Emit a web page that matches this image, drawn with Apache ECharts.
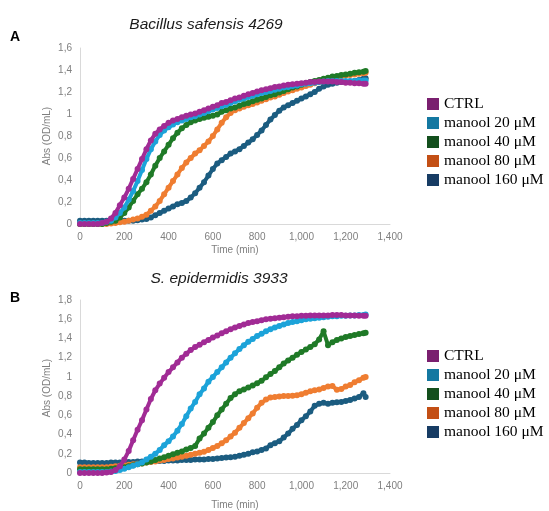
<!DOCTYPE html>
<html>
<head>
<meta charset="utf-8">
<script src="https://cdn.jsdelivr.net/npm/echarts@6/dist/echarts.min.js"></script>
<style>
  html, body { margin: 0; padding: 0; background: #fff; }
  #chart { width: 549px; height: 511px; }
</style>
</head>
<body>
<div id="chart"></div>
<script>
// Sampling times (min)
const times = [0,20,40,60,80,100,120,140,160,180,
  200,220,240,260,280,300,320,340,360,380,
  400,420,440,460,480,500,520,540,560,580,
  600,620,640,660,680,700,720,740,760,780,
  800,820,840,860,880,900,920,940,960,980,
  1000,1020,1040,1060,1080,1100,1120,1140,1160,1180,
  1200,1220,1240,1260,1280,1290];

const seriesNames = ['CTRL', 'manool 20 \u03bcM', 'manool 40 \u03bcM', 'manool 80 \u03bcM', 'manool 160 \u03bcM'];

// Panel A – Bacillus safensis 4269, Abs (OD/mL)
const ctrlA = [0.00,0.00,0.00,0.00,0.00,0.01,0.02,0.05,0.10,0.17,
  0.24,0.32,0.41,0.50,0.59,0.68,0.76,0.82,0.86,0.89,
  0.92,0.94,0.955,0.97,0.985,0.995,1.005,1.02,1.035,1.05,
  1.065,1.08,1.10,1.11,1.125,1.14,1.15,1.165,1.18,1.19,
  1.205,1.215,1.225,1.235,1.245,1.25,1.26,1.265,1.27,1.275,
  1.28,1.285,1.29,1.29,1.295,1.295,1.295,1.295,1.29,1.29,
  1.285,1.285,1.28,1.28,1.275,1.275];
const m20A = [0.01,0.01,0.01,0.01,0.01,0.01,0.02,0.03,0.06,0.10,
  0.15,0.22,0.30,0.39,0.49,0.59,0.68,0.75,0.81,0.85,
  0.88,0.905,0.925,0.94,0.955,0.97,0.98,0.995,1.01,1.025,
  1.04,1.055,1.07,1.085,1.10,1.115,1.13,1.14,1.155,1.165,
  1.18,1.19,1.20,1.21,1.22,1.23,1.24,1.245,1.255,1.26,
  1.27,1.275,1.28,1.285,1.29,1.295,1.30,1.30,1.30,1.30,
  1.30,1.30,1.30,1.305,1.305,1.305];
const m40A = [0.00,0.00,0.00,0.00,0.00,0.00,0.01,0.02,0.03,0.06,
  0.10,0.15,0.21,0.27,0.32,0.38,0.45,0.53,0.60,0.66,
  0.72,0.78,0.83,0.87,0.90,0.925,0.94,0.955,0.965,0.975,
  0.985,0.995,1.02,1.035,1.05,1.06,1.075,1.09,1.10,1.115,
  1.13,1.14,1.155,1.17,1.18,1.195,1.21,1.225,1.24,1.25,
  1.265,1.28,1.29,1.30,1.31,1.32,1.33,1.34,1.345,1.355,
  1.36,1.365,1.375,1.38,1.385,1.39];
const m80A = [0.00,0.00,0.00,0.00,0.00,0.00,0.00,0.005,0.01,0.015,
  0.02,0.03,0.04,0.05,0.065,0.085,0.12,0.16,0.21,0.27,
  0.33,0.39,0.45,0.51,0.56,0.60,0.64,0.67,0.71,0.75,
  0.80,0.86,0.92,0.97,1.01,1.035,1.05,1.065,1.08,1.09,
  1.105,1.12,1.135,1.15,1.16,1.175,1.19,1.205,1.215,1.23,
  1.24,1.255,1.265,1.28,1.29,1.30,1.31,1.32,1.33,1.34,
  1.35,1.355,1.36,1.365,1.37,1.375];
const m160A = [0.03,0.03,0.03,0.03,0.03,0.03,0.03,0.03,0.03,0.03,
  0.03,0.03,0.03,0.035,0.04,0.045,0.06,0.08,0.10,0.12,
  0.14,0.16,0.18,0.19,0.21,0.24,0.28,0.33,0.38,0.44,
  0.50,0.55,0.58,0.61,0.64,0.66,0.68,0.71,0.74,0.77,
  0.81,0.85,0.90,0.95,0.99,1.03,1.06,1.08,1.10,1.12,
  1.14,1.16,1.18,1.20,1.23,1.25,1.265,1.275,1.285,1.29,
  1.29,1.295,1.30,1.31,1.32,1.325];

// Panel B – S. epidermidis 3933, Abs (OD/mL)
const ctrlB = [0.00,0.00,0.00,0.00,0.00,0.00,0.005,0.01,0.03,0.07,
  0.14,0.23,0.34,0.45,0.55,0.66,0.77,0.86,0.93,0.99,
  1.05,1.10,1.15,1.20,1.24,1.28,1.31,1.335,1.36,1.385,
  1.41,1.43,1.455,1.475,1.495,1.515,1.53,1.545,1.56,1.57,
  1.58,1.59,1.60,1.605,1.61,1.615,1.62,1.625,1.63,1.63,
  1.635,1.635,1.64,1.64,1.64,1.64,1.64,1.645,1.645,1.645,
  1.64,1.64,1.64,1.635,1.635,1.635];
const m20B = [0.01,0.01,0.01,0.01,0.01,0.01,0.01,0.015,0.02,0.03,
  0.045,0.06,0.075,0.09,0.11,0.14,0.17,0.20,0.24,0.29,
  0.33,0.38,0.44,0.51,0.59,0.67,0.74,0.82,0.88,0.95,
  1.00,1.05,1.10,1.15,1.20,1.245,1.29,1.33,1.365,1.395,
  1.425,1.45,1.475,1.495,1.515,1.53,1.545,1.56,1.57,1.58,
  1.59,1.60,1.605,1.61,1.615,1.62,1.625,1.63,1.63,1.635,
  1.635,1.64,1.64,1.645,1.645,1.65];
const m40B = [0.04,0.04,0.04,0.04,0.04,0.04,0.04,0.045,0.05,0.055,
  0.06,0.07,0.08,0.09,0.10,0.11,0.12,0.135,0.15,0.165,
  0.18,0.195,0.21,0.225,0.245,0.26,0.28,0.36,0.41,0.47,
  0.53,0.60,0.66,0.72,0.78,0.82,0.85,0.87,0.89,0.91,
  0.935,0.96,0.995,1.03,1.06,1.10,1.14,1.17,1.20,1.23,
  1.26,1.285,1.31,1.34,1.39,1.475,1.33,1.36,1.385,1.40,
  1.415,1.425,1.435,1.445,1.455,1.46];
const m80B = [0.06,0.06,0.06,0.06,0.06,0.06,0.06,0.065,0.07,0.075,
  0.08,0.085,0.09,0.095,0.10,0.11,0.115,0.12,0.13,0.135,
  0.145,0.15,0.16,0.17,0.18,0.19,0.20,0.21,0.22,0.24,
  0.26,0.28,0.31,0.34,0.38,0.42,0.47,0.52,0.57,0.62,
  0.68,0.73,0.765,0.785,0.79,0.795,0.80,0.80,0.805,0.81,
  0.82,0.835,0.85,0.86,0.87,0.885,0.90,0.905,0.865,0.875,
  0.90,0.915,0.945,0.965,0.99,1.00];
const m160B = [0.11,0.11,0.105,0.105,0.105,0.105,0.105,0.11,0.11,0.11,
  0.115,0.115,0.115,0.12,0.12,0.12,0.12,0.125,0.125,0.125,
  0.13,0.13,0.13,0.135,0.135,0.135,0.14,0.14,0.14,0.145,
  0.145,0.15,0.155,0.16,0.165,0.17,0.18,0.19,0.20,0.215,
  0.225,0.24,0.255,0.29,0.31,0.33,0.37,0.41,0.46,0.50,
  0.55,0.59,0.64,0.70,0.72,0.73,0.72,0.73,0.735,0.74,
  0.75,0.76,0.775,0.79,0.83,0.79];

// Line colours and (darker) legend swatch colours
const lineColors = ['#a12b95', '#1ca3d9', '#1f7a27', '#ef7d31', '#1b5c80'];
const swatchColors = ['#7a1f6f', '#1478a1', '#134f1d', '#c34f15', '#173c64'];

const panelA = [ctrlA, m20A, m40A, m80A, m160A];
const panelB = [ctrlB, m20B, m40B, m80B, m160B];

function pairs(values) {
  return times.map((t, i) => [t, values[i]]);
}

function buildSeries(panel, axisIndex) {
  const out = [];
  // draw highest concentration first so CTRL ends up on top
  for (let k = panel.length - 1; k >= 0; k--) {
    out.push({
      name: seriesNames[k],
      type: 'line',
      xAxisIndex: axisIndex,
      yAxisIndex: axisIndex,
      data: pairs(panel[k]),
      symbol: 'circle',
      symbolSize: 6,
      showAllSymbol: true,
      lineStyle: { width: 4, color: lineColors[k] },
      itemStyle: { color: lineColors[k] },
      emphasis: { disabled: true },
      z: 2 + (panel.length - k)
    });
  }
  return out;
}

const commaFmt = v => String(Number(v.toFixed(1))).replace('.', ',');
const axisGray = '#7f7f7f';
const lineGray = '#d9d9d9';

function xAxis(gridIndex, gap) {
  return {
    type: 'value', gridIndex: gridIndex,
    min: 0, max: 1400, interval: 200,
    name: 'Time (min)', nameLocation: 'middle', nameGap: gap,
    nameTextStyle: { color: axisGray, fontSize: 10, fontFamily: 'Liberation Sans' },
    axisLine: { show: true, lineStyle: { color: lineGray, width: 1 } },
    axisTick: { show: false },
    splitLine: { show: false },
    axisLabel: { color: axisGray, fontSize: 10, fontFamily: 'Liberation Sans', margin: 8 }
  };
}
function yAxis(gridIndex, max) {
  return {
    type: 'value', gridIndex: gridIndex,
    min: 0, max: max, interval: 0.2,
    axisLine: { show: true, lineStyle: { color: lineGray, width: 1 } },
    axisTick: { show: false },
    splitLine: { show: false },
    axisLabel: { color: axisGray, fontSize: 10, fontFamily: 'Liberation Sans', margin: 8, formatter: commaFmt }
  };
}

// vertical axis title, centred on the plot height
function yTitle(cy) {
  return {
    type: 'text', x: 47, y: cy, rotation: Math.PI / 2,
    style: { text: 'Abs (OD/mL)', fontFamily: 'Liberation Sans', fontSize: 10, fill: axisGray, textAlign: 'center', textVerticalAlign: 'middle' }
  };
}

function panelTitle(text, cx, cy) {
  return {
    type: 'text', x: cx, y: cy,
    style: { text: text, fontFamily: 'Liberation Sans', fontStyle: 'italic', fontSize: 15.5, fill: '#1a1a1a', textAlign: 'center', textVerticalAlign: 'middle' }
  };
}

function panelLetter(text, cy) {
  return {
    type: 'text', x: 15, y: cy,
    style: { text: text, fontFamily: 'Liberation Sans', fontWeight: 'bold', fontSize: 14, fill: '#000', textAlign: 'center', textVerticalAlign: 'middle' }
  };
}

function legend(top) {
  return {
    orient: 'vertical', left: 422, top: top,
    icon: 'rect', itemWidth: 12, itemHeight: 12, itemGap: 3,
    selectedMode: false,
    textStyle: { fontFamily: 'Liberation Serif', fontSize: 15.5, color: '#000', padding: [0, 0, 0, 0] },
    data: seriesNames.map((n, k) => ({ name: n, itemStyle: { color: swatchColors[k] } }))
  };
}

const chart = echarts.init(document.getElementById('chart'), null, { renderer: 'canvas' });
chart.setOption({
  animation: false,
  backgroundColor: '#ffffff',
  grid: [
    { left: 80, top: 48, width: 310, height: 176 },
    { left: 80, top: 300, width: 310, height: 176 }
  ],
  xAxis: [xAxis(0, 21), xAxis(1, 27)],
  yAxis: [yAxis(0, 1.6), yAxis(1, 1.8)],
  legend: [legend(91), legend(343)],
  graphic: [
    panelTitle('Bacillus safensis 4269', 206, 25),
    panelTitle('S. epidermidis 3933', 219, 279),
    panelLetter('A', 37),
    panelLetter('B', 298),
    yTitle(136),
    yTitle(388)
  ],
  series: buildSeries(panelA, 0).concat(buildSeries(panelB, 1))
});
</script>
</body>
</html>
